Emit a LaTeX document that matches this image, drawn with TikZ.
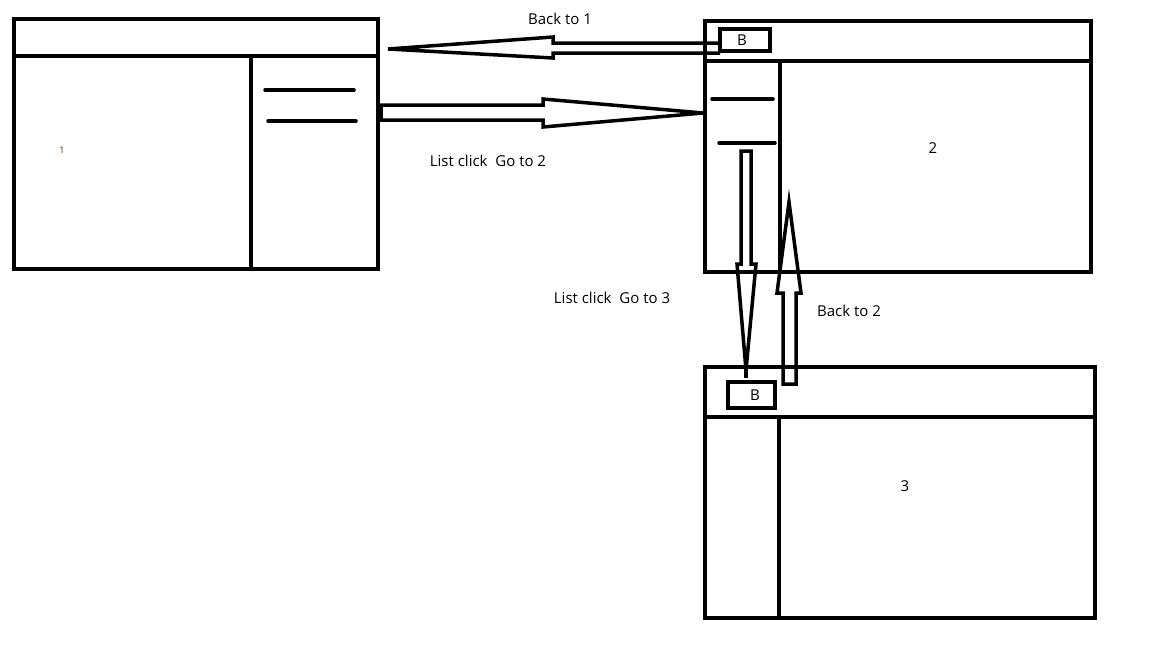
\documentclass[tikz,border=0pt]{standalone}
\usepackage{fontspec}
\setmainfont{Open Sans}
\begin{document}
\begin{tikzpicture}[x=1pt,y=-1pt,line width=4pt,
  win/.style={draw,line width=4pt},
  lbl/.style={font=\fontsize{15}{18}\selectfont,inner sep=0pt},
  harrow/.style={draw,line width=3.5pt,line join=miter},
  bar/.style={line width=3.5pt,line cap=round}]
\useasboundingbox[fill=white] (0,0) rectangle (1152,648);
% window 1
\draw[win] (14,19) rectangle (378,269);
\draw[win] (14,56) -- (378,56);
\draw[win] (251,56) -- (251,269);
\draw[bar] (265,90) -- (354,90);
\draw[bar] (268,121) -- (356,121);
\node[lbl,font=\fontsize{9}{10}\selectfont,text={rgb,255:red,120;green,40;blue,0}] (n1) at (62,150) {1};
% window 2
\draw[win] (705,21) rectangle (1091,272);
\draw[win] (705,61) -- (1091,61);
\draw[win] (780,61) -- (780,272);
\draw[bar] (712,99) -- (773,99);
\draw[bar] (719,143) -- (775,143);
\draw[win,line width=3.5pt] (720,29) rectangle (770,51);
\node[lbl] (b2) at (742,40) {B};
\node[lbl] (n2) at (933,148) {2};
% window 3
\draw[win] (705,367) rectangle (1095,618);
\draw[win] (705,417) -- (1095,417);
\draw[win] (779,417) -- (779,618);
\draw[win,line width=3.5pt] (728,382) rectangle (775,408);
\node[lbl] (b3) at (755,395) {B};
\node[lbl] (n3) at (905,486) {3};
% arrows
\draw[harrow] (720,43) -- (553,43) -- (553,37) -- (388,49) -- (553,58) -- (553,53) -- (720,53);
\draw[harrow] (381,105) -- (543,105) -- (543,99) -- (703,113) -- (543,127) -- (543,120) -- (381,120) -- cycle;
\draw[harrow] (741,151) -- (751,151) -- (751,264) -- (756,264) -- (746,370) -- (737,264) -- (741,264) -- cycle;
\draw[harrow] (746,370) -- (746,378);
\draw[harrow] (783,384) -- (783,293) -- (777,293) -- (789,202) -- (801,293) -- (796,293) -- (796,384) -- cycle;
% labels
\node[lbl] (t1) at (560,19) {Back to 1};
\node[lbl] (t2) at (488,161) {List click\ \ Go to 2};
\node[lbl] (t3) at (612,298) {List click\ \ Go to 3};
\node[lbl] (t4) at (849,311) {Back to 2};
\end{tikzpicture}
\end{document}
